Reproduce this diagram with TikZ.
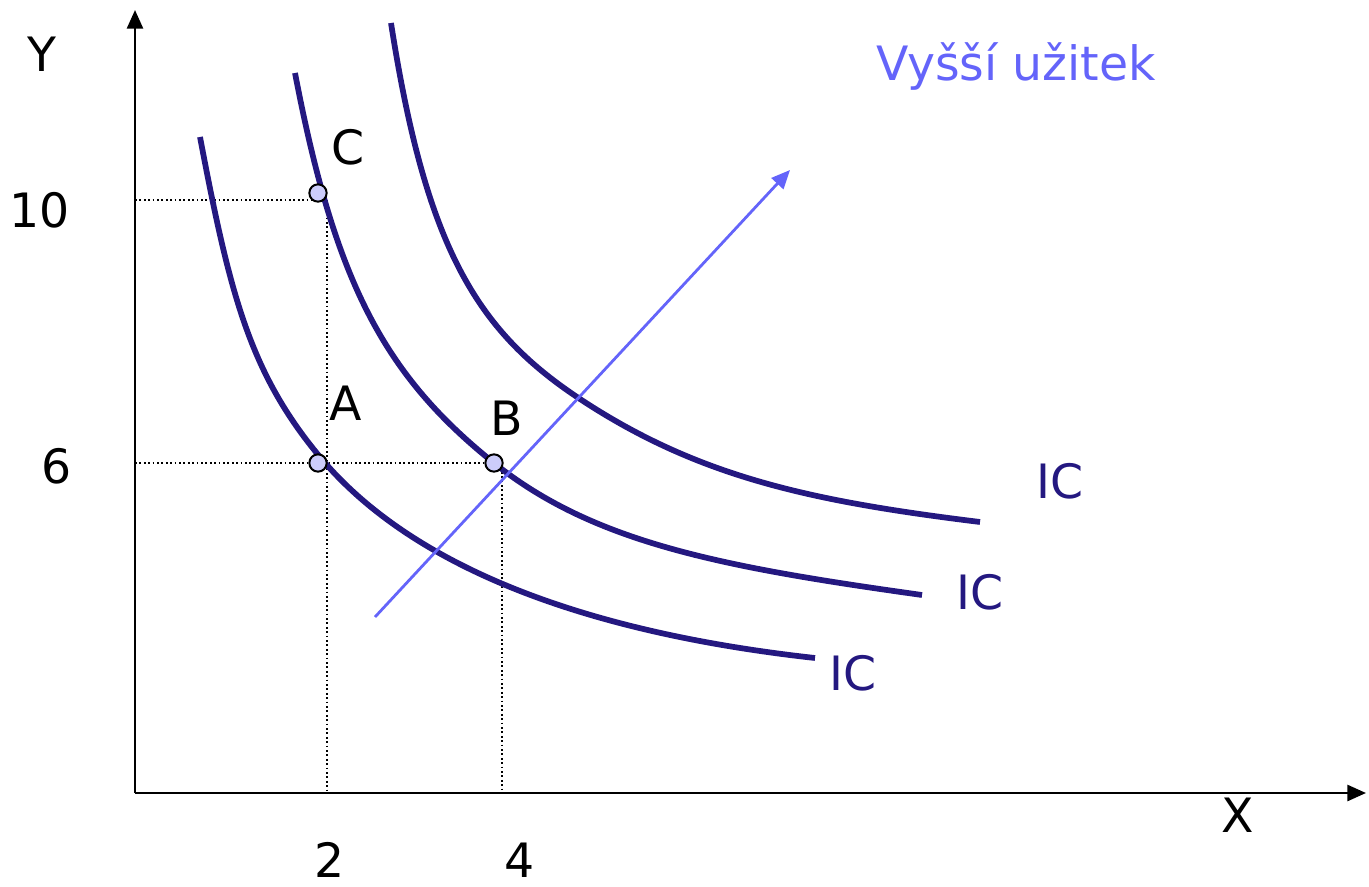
\documentclass[tikz,border=0pt]{standalone}
\usepackage{fontspec}
\setmainfont{DejaVu Sans}
\usetikzlibrary{arrows.meta,positioning}
\definecolor{icnavy}{RGB}{36,24,128}
\definecolor{upblue}{RGB}{100,100,250}
\definecolor{ptfill}{RGB}{204,204,250}
\tikzset{ic/.style={draw=icnavy,line width=4.3pt},
 lb/.style={font=\fontsize{35.5}{38}\selectfont,inner sep=0pt},
 icl/.style={lb,text=icnavy},
 dt/.style={dotted,line width=1.3pt},
 pt/.style={circle,draw=black,fill=ptfill,line width=1.5pt,minimum size=13pt,inner sep=0pt},
 ax/.style={line width=2pt,-{Triangle[length=14pt,width=12pt]}}}
\begin{document}
\begin{tikzpicture}[x=0.75pt,y=-0.75pt]
\useasboundingbox (0,0) rectangle (1369,887);
\coordinate(o) at (135,793);\coordinate(ytop) at (135,10);\coordinate(xend) at (1366,793);
\draw[ax](o)--(ytop);\draw[ax](o)--(xend);
\node[lb](ylab) at (42,54){Y};\node[lb](xlab) at (1238,815){X};
\node[lb](t10) at (40,210){10};\node[lb](t6) at (57,466){6};
\node[lb](t2) at (330,860){2};\node[lb](t4) at (520,860){4};
% dotted guides
\coordinate(c) at (318,193);\coordinate(a) at (318,463);\coordinate(b) at (494,463);
\draw[dt](135,200)--(318,200);\draw[dt](327,200)--(327,793);
\draw[dt](135,463)--(494,463);\draw[dt](502,463)--(502,793);
% indifference curves
\draw[ic](200,137)..controls(230,295)and(250,373)..(320,457)..controls(410,565)and(580,632)..(815,658);
\draw[ic](295,73)..controls(335,282)and(384,375)..(494,463)..controls(594,543)and(722,567)..(922,595);
\draw[ic](391,23)..controls(426,248)and(477,330)..(577,397)..controls(697,477)and(810,501)..(980,522);
\node[icl](ic1) at (853,673){IC};\node[icl](ic2) at (980,592){IC};\node[icl](ic3) at (1060,481){IC};
% direction of higher utility
\coordinate(s) at (375,617);\coordinate(e) at (790,170);
\draw[upblue,line width=2.1pt,-{Triangle[length=14pt,width=12pt]}](s)--(e);
\node[lb,text=upblue](vu) at (1016,66){Vyšší užitek};
\node[pt](pc) at (c){};\node[pt](pa) at (a){};\node[pt](pb) at (b){};
\node[lb](lc) at (348,147){C};\node[lb](la) at (346,403){A};\node[lb](lbb) at (507,418){B};
\end{tikzpicture}
\end{document}
